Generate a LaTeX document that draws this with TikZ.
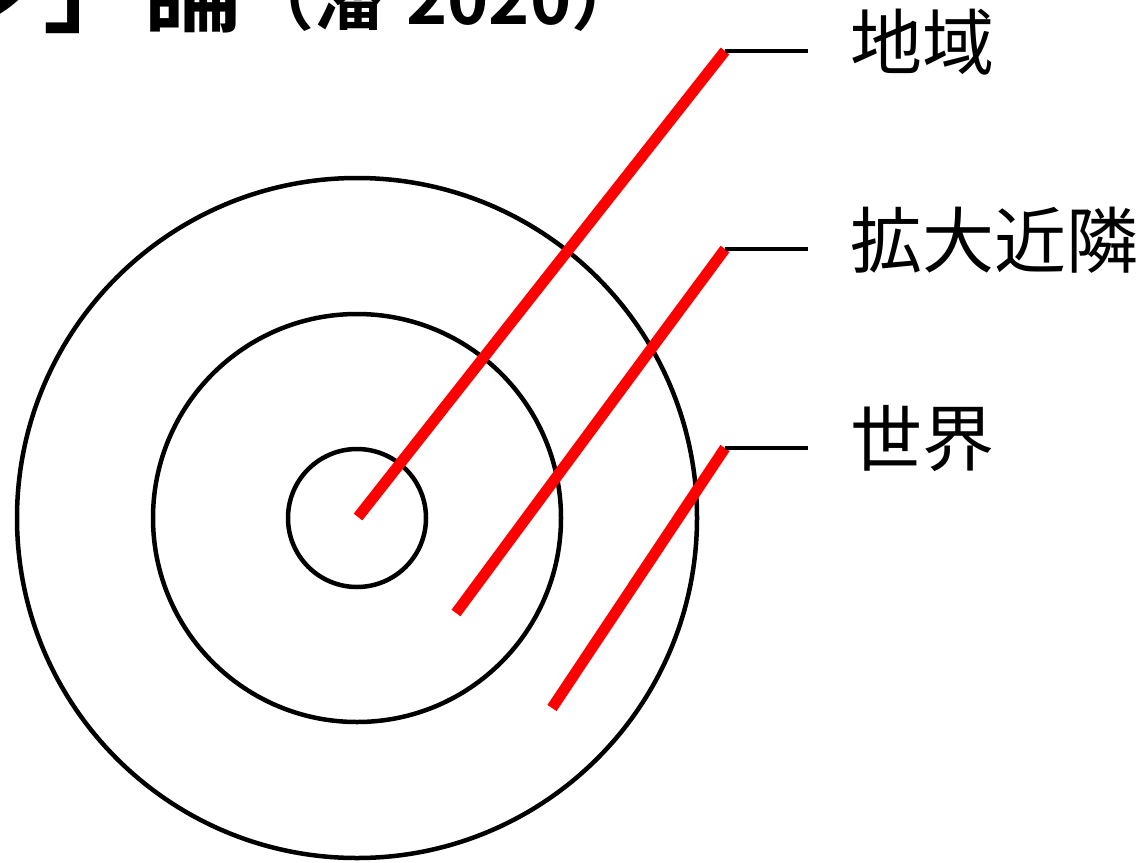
\documentclass[tikz,border=0pt]{standalone}
\usepackage{fontspec}
\newfontfamily\jp{Noto Sans CJK JP}
\newfontfamily\jpb{Noto Sans CJK JP Bold}
\begin{document}
\begin{tikzpicture}[x=1pt,y=-1pt,
  ring/.style={circle,draw=black,line width=4.5pt,inner sep=0pt},
  redline/.style={draw=red,line width=11pt},
  tick/.style={draw=black,line width=4.5pt},
  lbl/.style={anchor=west,inner sep=0pt,font=\jp\fontsize{72}{78}\selectfont},
  ttl/.style={inner sep=0pt,font=\jpb\fontsize{100}{110}\selectfont},
]
\useasboundingbox (0,0) rectangle (1142,862);
\node[ttl,anchor=base east] (title) at (244,24) {ン」論};
\node[ttl,anchor=base west,font=\jpb\fontsize{70}{76}\selectfont] (cite) at (title.base east) {（潘\hspace{22pt}2020）};
\node[ring,minimum size=138pt] (c1) at (357,518) {};
\node[ring,minimum size=408pt] (c2) at (357,518) {};
\node[ring,minimum size=680pt] (c3) at (357,518) {};
\coordinate (a0) at (358,517);
\coordinate (a1) at (725,51);
\coordinate (b0) at (456,613);
\coordinate (b1) at (725,249);
\coordinate (d0) at (552,708);
\coordinate (d1) at (725,448);
\coordinate (a2) at (808,51);
\coordinate (b2) at (808,249);
\coordinate (d2) at (808,448);
\draw[redline] (a0) -- (a1);
\draw[redline] (b0) -- (b1);
\draw[redline] (d0) -- (d1);
\draw[tick] (a1) -- (a2);
\draw[tick] (b1) -- (b2);
\draw[tick] (d1) -- (d2);
\node[lbl] (l1) at (850,42) {地域};
\node[lbl] (l2) at (850,240) {拡大近隣};
\node[lbl] (l3) at (850,439) {世界};
\end{tikzpicture}
\end{document}
